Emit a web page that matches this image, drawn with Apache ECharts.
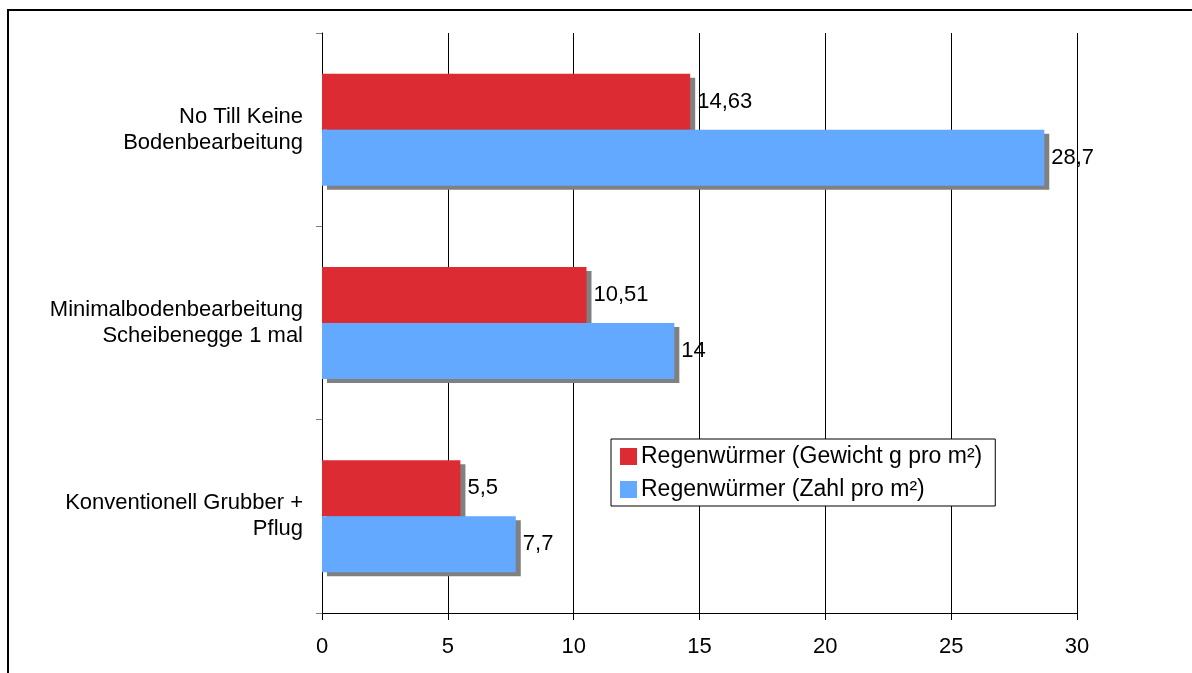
<!DOCTYPE html>
<html>
<head>
<meta charset="utf-8">
<script src="https://cdn.jsdelivr.net/npm/echarts@6/dist/echarts.min.js"></script>
<style>
  html, body { margin: 0; padding: 0; background: #fff; }
  #chart { width: 1192px; height: 673px; }
</style>
</head>
<body>
<div id="chart"></div>
<script>
// Soil tillage methods, top to bottom
const categories = [
  'No Till Keine\nBodenbearbeitung',
  'Minimalbodenbearbeitung\nScheibenegge 1 mal',
  'Konventionell Grubber +\nPflug'
];
const seriesNames = [
  'Regenwürmer (Gewicht g pro m²)',
  'Regenwürmer (Zahl pro m²)'
];
// Earthworm weight (g per m²)
const weightValues = [14.63, 10.51, 5.5];
// Earthworm count (per m²)
const countValues = [28.7, 14, 7.7];
// Value axis ticks
const xTicks = [0, 5, 10, 15, 20, 25, 30];

const font = '"Liberation Sans", Arial, sans-serif';
const commaFmt = p => String(p.value).replace('.', ',');

const barStyle = color => ({
  color: color,
  shadowColor: '#808080',
  shadowBlur: 0,
  shadowOffsetX: 5,
  shadowOffsetY: 4
});

const valueLabel = {
  show: true, position: 'right', distance: 7,
  fontFamily: font, fontSize: 22, color: '#000',
  formatter: commaFmt
};

const chart = echarts.init(document.getElementById('chart'), null, { renderer: 'canvas' });
chart.setOption({
  animation: false,
  backgroundColor: '#fff',
  textStyle: { fontFamily: font },
  graphic: [{
    type: 'rect',
    shape: { x: 8, y: 10, width: 1400, height: 900 },
    style: { fill: 'none', stroke: '#000', lineWidth: 2 },
    silent: true,
    z: 100
  }],
  grid: { left: 322, right: 115, top: 33, bottom: 60, containLabel: false },
  legend: {
    orient: 'vertical',
    left: 611,
    top: 439,
    padding: [6, 13, 5, 9],
    itemGap: 10,
    itemWidth: 17,
    itemHeight: 17,
    borderColor: '#000',
    borderWidth: 1,
    backgroundColor: '#fff',
    icon: 'rect',
    textStyle: {
      fontFamily: font, fontSize: 23, lineHeight: 18, color: '#000',
      padding: [0, 0, 0, -1]
    },
    data: seriesNames
  },
  xAxis: {
    type: 'value',
    min: xTicks[0],
    max: xTicks[xTicks.length - 1],
    interval: xTicks[1] - xTicks[0],
    axisLine: { show: true, lineStyle: { color: '#000', width: 1 } },
    axisTick: { show: true, length: 7, lineStyle: { color: '#000' } },
    axisLabel: { fontFamily: font, fontSize: 22, color: '#000', margin: 23 },
    splitLine: { show: true, lineStyle: { color: '#000', width: 1 } }
  },
  yAxis: {
    type: 'category',
    inverse: true,
    data: categories,
    axisLine: { show: true, lineStyle: { color: '#000', width: 1 } },
    axisTick: { show: true, length: 6, alignWithLabel: false, lineStyle: { color: '#808080' } },
    axisLabel: {
      fontFamily: font, fontSize: 22, color: '#000',
      margin: 19, lineHeight: 26, align: 'right'
    },
    splitLine: { show: false }
  },
  series: [
    {
      name: seriesNames[0],
      type: 'bar',
      data: weightValues,
      barWidth: 56,
      barGap: '0%',
      itemStyle: barStyle('#DC2B33'),
      label: valueLabel
    },
    {
      name: seriesNames[1],
      type: 'bar',
      data: countValues,
      barWidth: 56,
      barGap: '0%',
      itemStyle: barStyle('#62A9FF'),
      label: valueLabel
    }
  ]
});
</script>
</body>
</html>
